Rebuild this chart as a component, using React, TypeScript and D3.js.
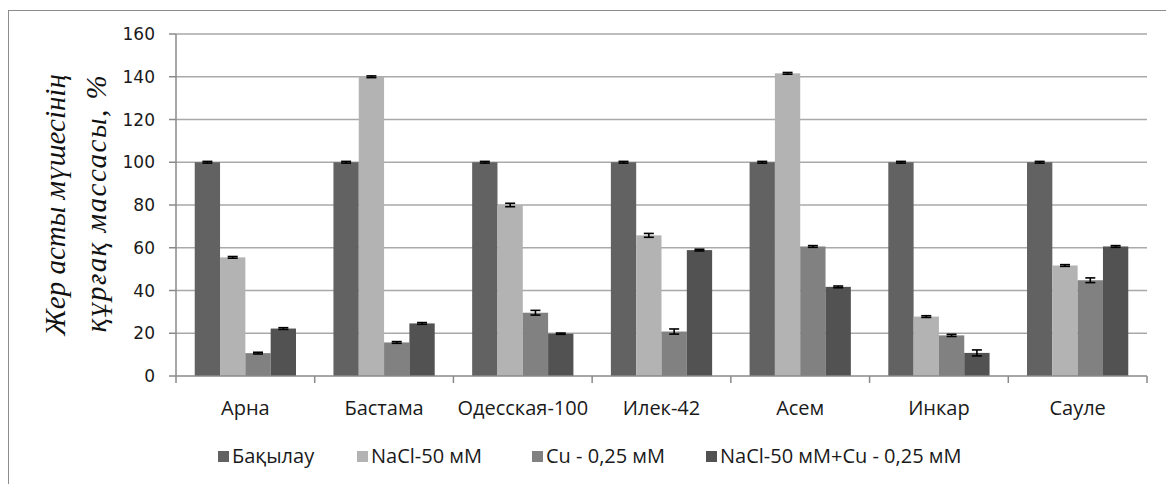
import React from 'react';
import * as d3 from 'd3';

const categories = ['Арна', 'Бастама', 'Одесская-100', 'Илек-42', 'Асем', 'Инкар', 'Сауле'];
const seriesNames = ['Бақылау', 'NaCl-50 мМ', 'Cu - 0,25 мМ', 'NaCl-50 мМ+Cu - 0,25 мМ'];
const control = [100, 100, 100, 100, 100, 100, 100];
const nacl = [55.5, 140, 80, 65.8, 141.6, 27.8, 51.7];
const cu = [10.7, 15.7, 29.6, 20.8, 60.6, 19, 44.8];
const naclCu = [22.2, 24.6, 19.8, 58.9, 41.7, 10.8, 60.6];
const errControl = [0.4, 0.4, 0.4, 0.4, 0.4, 0.4, 0.4];
const errNacl = [0.4, 0.4, 0.8, 0.9, 0.4, 0.4, 0.4];
const errCu = [0.4, 0.4, 1.1, 1.2, 0.4, 0.5, 1.1];
const errNaclCu = [0.4, 0.4, 0.3, 0.4, 0.4, 1.4, 0.4];
const yTicks = [0, 20, 40, 60, 80, 100, 120, 140, 160];
const colors = ['#626262', '#b3b3b3', '#818181', '#525252'];

const values = [control, nacl, cu, naclCu];
const errors = [errControl, errNacl, errCu, errNaclCu];

const W = 1166;
const H = 484;
const left = 176;
const right = 1147;
const top = 34;
const bottom = 376;

export default function App() {
  const x0 = d3.scaleBand().domain(categories).range([left, right]).paddingInner(0.27).paddingOuter(0.135);
  const x1 = d3.scaleBand().domain(seriesNames).range([0, x0.bandwidth()]);
  const y = d3.scaleLinear().domain([0, 160]).range([bottom, top]);
  const step = (right - left) / categories.length;
  const catTicks = d3.range(categories.length + 1).map(i => left + i * step);

  const legendX = [218, 357, 532, 706];

  return (
    <svg width={W} height={H} style={{ position: 'absolute', left: 0, top: 0 }}>
      <rect x={0} y={0} width={W} height={H} fill="#fff" />
      <rect x={8.5} y={10.5} width={W} height={H} fill="none" stroke="#8c8c8c" strokeWidth={1} />

      {/* gridlines */}
      {yTicks.slice(1).map(t => (
        <line key={t} x1={left} x2={right} y1={y(t)} y2={y(t)} stroke="#a9a9a9" strokeWidth={1.5} />
      ))}

      {/* bars */}
      {values.map((vals, s) =>
        categories.map((c, i) => (
          <rect
            key={`${s}-${c}`}
            x={(x0(c) ?? 0) + (x1(seriesNames[s]) ?? 0)}
            y={y(vals[i])}
            width={x1.bandwidth()}
            height={y(0) - y(vals[i])}
            fill={colors[s]}
          />
        ))
      )}

      {/* error bars */}
      {values.map((vals, s) =>
        categories.map((c, i) => {
          const cx = (x0(c) ?? 0) + (x1(seriesNames[s]) ?? 0) + x1.bandwidth() / 2;
          const e = errors[s][i];
          const y1 = y(vals[i] + e);
          const y2 = y(vals[i] - e);
          return (
            <g key={`e-${s}-${c}`} stroke="#000" strokeWidth={1.6}>
              <line x1={cx} x2={cx} y1={y1} y2={y2} />
              <line x1={cx - 5} x2={cx + 5} y1={y1} y2={y1} />
              <line x1={cx - 5} x2={cx + 5} y1={y2} y2={y2} />
            </g>
          );
        })
      )}

      {/* y axis */}
      <line x1={left} x2={left} y1={top} y2={bottom} stroke="#8a8a8a" strokeWidth={1.5} />
      {yTicks.map(t => (
        <g key={`yt-${t}`}>
          <line x1={left - 7} x2={left} y1={y(t)} y2={y(t)} stroke="#8a8a8a" strokeWidth={1.5} />
          <text x={left - 21} y={y(t)} dy="0.36em" textAnchor="end" fontFamily="DejaVu Sans" fontSize={17} fill="#1a1a1a">
            {t}
          </text>
        </g>
      ))}

      {/* x axis */}
      <line x1={left} x2={right} y1={bottom} y2={bottom} stroke="#8a8a8a" strokeWidth={1.5} />
      {catTicks.map((t, i) => (
        <line key={`xt-${i}`} x1={t} x2={t} y1={bottom} y2={bottom + 7} stroke="#8a8a8a" strokeWidth={1.5} />
      ))}
      {categories.map(c => (
        <text key={`xl-${c}`} x={(x0(c) ?? 0) + x0.bandwidth() / 2} y={415} textAnchor="middle" fontFamily="Open Sans" fontSize={20} fill="#1a1a1a">
          {c}
        </text>
      ))}

      {/* y axis title */}
      <g fontFamily="Liberation Serif" fontStyle="italic" fontSize={29} fill="#111" textAnchor="middle" style={{ whiteSpace: 'pre' }}>
        <text transform={`translate(65,205) rotate(-90)`}>Жер асты мүшесінің</text>
        <text transform={`translate(106,203) rotate(-90)`} letterSpacing={1.5}>{'құрғақ  массасы, %'}</text>
      </g>

      {/* legend */}
      {seriesNames.map((n, s) => (
        <g key={`lg-${s}`} transform={`translate(${legendX[s]},456)`}>
          <rect x={0} y={-5} width={11} height={11} fill={colors[s]} />
          <text x={14} y={0} dy="0.36em" fontFamily="Open Sans" fontSize={20} fill="#1a1a1a">
            {n}
          </text>
        </g>
      ))}
    </svg>
  );
}
